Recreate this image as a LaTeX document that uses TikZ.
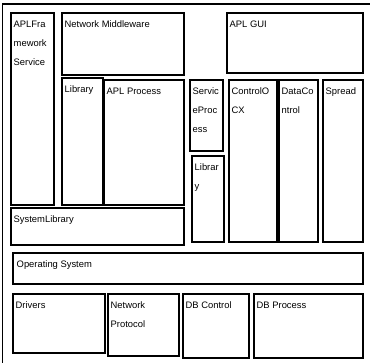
\documentclass[tikz,border=0pt]{standalone}
\usepackage{fontspec}
\setmainfont{Liberation Sans}
\usepackage{tikz}
\usetikzlibrary{positioning}

\begin{document}
\begin{tikzpicture}[x=1pt, y=-1pt,
  box/.style={draw, line width=1.1pt, inner sep=0pt, outer sep=0pt, anchor=north west},
  txt/.style={anchor=north west, inner sep=0pt, align=left, font=\fontsize{9.4}{19}\selectfont}]
  \useasboundingbox (0,0) rectangle (370,363);
  % outer frame (only top and left edges show)
  \draw[line width=1.6pt] (2.5,363) -- (2.5,4) -- (370,4);
  % left column
  \node[box, minimum width=43pt, minimum height=192pt] (fw) at (11,13) {};
  \node[txt] (fw-t) at ([shift={(2.5,7.5)}]fw.north west) {APLFra\\mework\\Service};
  \node[box, minimum width=122pt, minimum height=62pt] (mw) at (62,13) {};
  \node[txt] (mw-t) at ([shift={(2.5,7.5)}]mw.north west) {Network Middleware};
  \node[box, minimum width=41pt, minimum height=127pt] (lib) at (62,78) {};
  \node[txt] (lib-t) at ([shift={(2.5,7.5)}]lib.north west) {Library};
  \node[box, minimum width=80pt, minimum height=125pt] (proc) at (104,80) {};
  \node[txt] (proc-t) at ([shift={(2.5,7.5)}]proc.north west) {APL Process};
  \node[box, minimum width=173pt, minimum height=37pt] (syslib) at (11,208) {};
  \node[txt] (syslib-t) at ([shift={(2.5,7.5)}]syslib.north west) {SystemLibrary};
  % right column
  \node[box, minimum width=136pt, minimum height=60pt] (gui) at (227,13) {};
  \node[txt] (gui-t) at ([shift={(2.5,7.5)}]gui.north west) {APL GUI};
  \node[box, minimum width=33pt, minimum height=71pt] (svc) at (190,80) {};
  \node[txt] (svc-t) at ([shift={(2.5,7.5)}]svc.north west) {Servic\\eProc\\ess};
  \node[box, minimum width=32pt, minimum height=86pt] (lib2) at (192,156) {};
  \node[txt] (lib2-t) at ([shift={(2.5,7.5)}]lib2.north west) {Librar\\y};
  \node[box, minimum width=48pt, minimum height=162pt] (ocx) at (229,80) {};
  \node[txt] (ocx-t) at ([shift={(2.5,7.5)}]ocx.north west) {ControlO\\CX};
  \node[box, minimum width=39pt, minimum height=162pt] (dc) at (279,80) {};
  \node[txt] (dc-t) at ([shift={(2.5,7.5)}]dc.north west) {DataCo\\ntrol};
  \node[box, minimum width=40pt, minimum height=162pt] (spread) at (323,80) {};
  \node[txt] (spread-t) at ([shift={(2.5,7.5)}]spread.north west) {Spread};
  % os layer
  \node[box, minimum width=350pt, minimum height=31pt] (os) at (13,253) {};
  \node[txt] (os-t) at ([shift={(3.5,7.5)}]os.north west) {Operating System};
  % bottom row
  \node[box, minimum width=92pt, minimum height=59pt] (drv) at (13,294) {};
  \node[txt] (drv-t) at ([shift={(2.5,7.5)}]drv.north west) {Drivers};
  \node[box, minimum width=71pt, minimum height=62pt] (np) at (108,294) {};
  \node[txt] (np-t) at ([shift={(2.5,7.5)}]np.north west) {Network\\Protocol};
  \node[box, minimum width=66pt, minimum height=64pt] (dbc) at (183,294) {};
  \node[txt] (dbc-t) at ([shift={(2.5,7.5)}]dbc.north west) {DB Control};
  \node[box, minimum width=109pt, minimum height=64pt] (dbp) at (254,294) {};
  \node[txt] (dbp-t) at ([shift={(2.5,7.5)}]dbp.north west) {DB Process};
\end{tikzpicture}
\end{document}
